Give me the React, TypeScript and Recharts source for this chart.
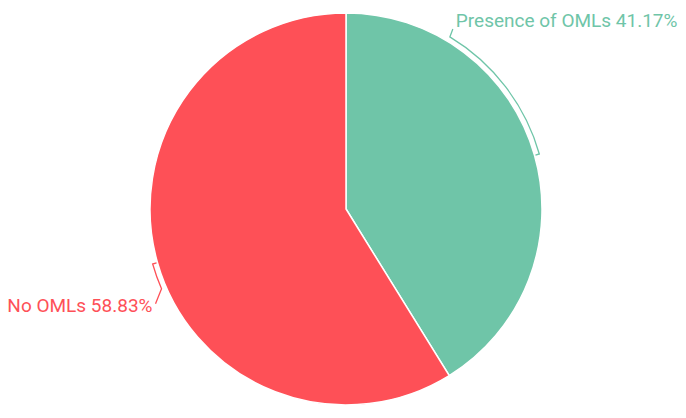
import React from 'react';
import { PieChart, Pie, Cell } from 'recharts';

const categories = ['Presence of OMLs', 'No OMLs'];
const values = [41.17, 58.83];
const colors = ['#6FC5A8', '#FE5057'];

const data = categories.map((name, i) => ({ name, value: values[i] }));

const RAD = Math.PI / 180;

const renderLabel = (props: any) => {
  const { cx, cy, midAngle, outerRadius, index } = props;
  const color = colors[index];
  const right = Math.cos(midAngle * RAD) >= 0;
  const span = right ? 43 : 7.5;
  const R = outerRadius + 5;
  const pt = (a: number, r: number) => [cx + r * Math.cos(a * RAD), cy - r * Math.sin(a * RAD)];
  const a1 = midAngle;
  const a2 = midAngle + span;
  const [t0x, t0y] = pt(a1, R - 4);
  const [s1x, s1y] = pt(a1, R);
  const [e2x, e2y] = pt(a2, R);
  let lx: number, ly: number, tx: number, ty: number;
  if (right) {
    lx = e2x + 3; ly = e2y - 8; tx = e2x + 6; ty = e2y - 10;
  } else {
    lx = e2x - 6; ly = e2y + 15; tx = e2x - 9; ty = e2y + 23;
  }
  const d = `M${t0x},${t0y} L${s1x},${s1y} A${R},${R} 0 0 0 ${e2x},${e2y} L${lx},${ly}`;
  return (
    <g>
      <path d={d} stroke={color} strokeWidth={1.3} fill="none" />
      <text x={tx} y={ty} fill={color} textAnchor={right ? 'start' : 'end'} fontSize={19} fontFamily="Roboto">
        {`${data[index].name} ${values[index].toFixed(2)}%`}
      </text>
    </g>
  );
};

export default function App() {
  return (
    <div style={{ margin: -8, width: 686, height: 418, background: '#fff' }}>
      <PieChart width={686} height={418} margin={{ top: 0, right: 0, bottom: 0, left: 0 }}>
        <Pie
          data={data}
          dataKey="value"
          nameKey="name"
          cx={346}
          cy={209}
          outerRadius={196}
          startAngle={90}
          endAngle={-270}
          stroke="#ffffff"
          strokeWidth={1.5}
          label={renderLabel}
          labelLine={false}
          isAnimationActive={false}
        >
          {data.map((d, i) => (
            <Cell key={d.name} fill={colors[i]} />
          ))}
        </Pie>
      </PieChart>
    </div>
  );
}
